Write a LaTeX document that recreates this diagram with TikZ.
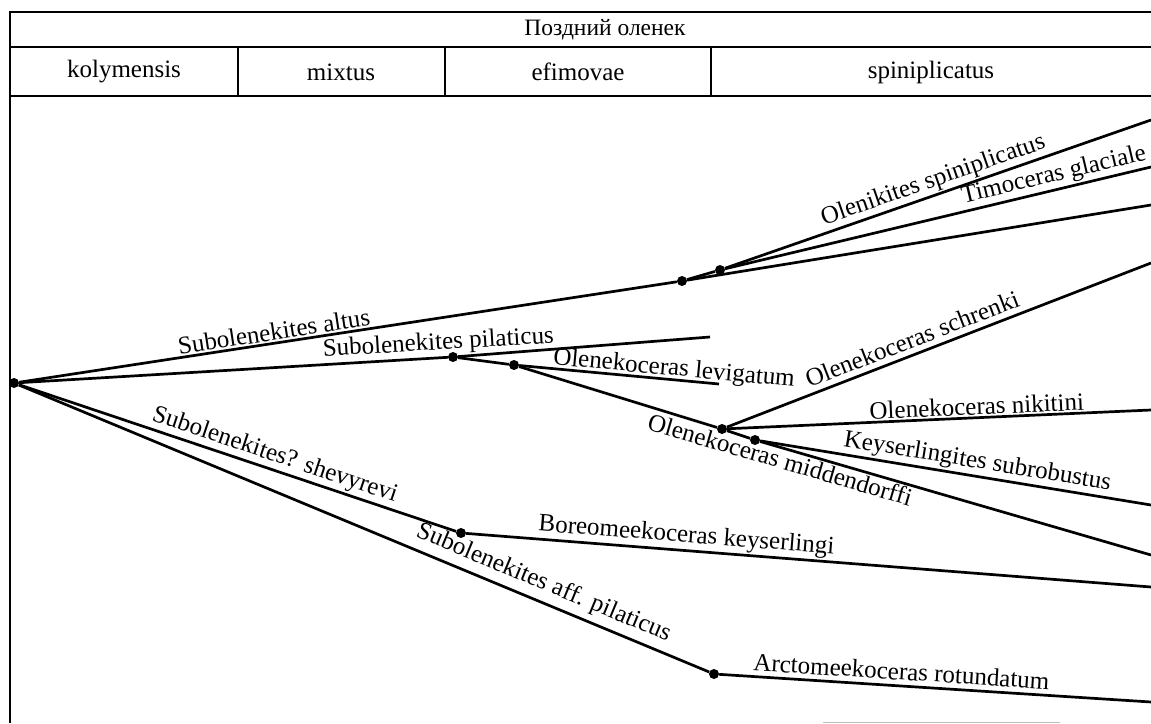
\documentclass[tikz,border=0pt]{standalone}
\usepackage{fontspec}
\setmainfont{Liberation Serif}
\usetikzlibrary{positioning, calc}

\tikzset{
    branch/.style={line width=2.7pt},
    fork/.style={circle, fill, inner sep=0pt, minimum size=10pt},
    taxon/.style={font=\fontsize{25}{28}\selectfont, sloped, above, inner sep=1.5pt},
    taxonlow/.style={font=\fontsize{25}{28}\selectfont, sloped, below, inner sep=1.5pt},
    rule/.style={line width=1.5pt},
}

\begin{document}
\begin{tikzpicture}[x=1pt, y=-1pt]
        % Define dimensions
        \def\W{1151} % picture width
        \def\H{723} % picture height
        \useasboundingbox (0,0) rectangle (\W,\H);

        % Draw the stage header
        \draw[rule] (10,\H) -- (10,12) -- (\W,12);
        \draw[rule] (10,47) -- (\W,47);
        \draw[rule] (10,96) -- (\W,96);
        \node[font=\fontsize{23.5}{28}\selectfont] (stage) at (605,30) {Поздний оленек};

        % Draw the zone cells
        \foreach \x in {238,445,711} {
            \draw[rule] (\x,47) -- (\x,96);
        }
        \foreach \x/\zone in {124/kolymensis, 341/mixtus, 578/efimovae, 931/spiniplicatus} {
            \node[font=\fontsize{25}{28}\selectfont] (\zone) at (\x,72) {\zone};
        }

        % Branch points
        \node[fork] (root) at (14,383) {};
        \node[fork] (altus) at (682,281) {};
        \node[fork] (olen) at (720,270) {};
        \node[fork] (pilat) at (453,357) {};
        \node[fork] (levig) at (514,365) {};
        \node[fork] (midd) at (722,429) {};
        \node[fork] (keys) at (755,440) {};
        \node[fork] (shev) at (461,533) {};
        \node[fork] (affpil) at (714,674) {};

        % Free ends of the lineages
        \coordinate (endspin) at (\W,120);
        \coordinate (endglac) at (\W,167);
        \coordinate (endaltus) at (\W,205);
        \coordinate (endpilat) at (710,337);
        \coordinate (endlevig) at (719,384);
        \coordinate (endschr) at (\W,263);
        \coordinate (endnik) at (\W,410);
        \coordinate (endsubr) at (\W,505);
        \coordinate (endmidd) at (\W,555);
        \coordinate (endbor) at (\W,587);
        \coordinate (endarct) at (\W,702);

        % Upper lineages
        \draw[branch] (root) -- node[taxon, pos=0.39] {Subolenekites altus} (altus);
        \draw[branch] (altus) -- (olen);
        \draw[branch] (altus) -- (endaltus);
        \draw[branch] (olen) -- node[taxon, pos=0.5] {Olenikites spiniplicatus} (endspin);
        \draw[branch] (olen) -- node[taxon, pos=0.78] {Timoceras glaciale} (endglac);

        % Middle lineages
        \draw[branch] (root) -- node[taxon, pos=0.98] {Subolenekites pilaticus} (pilat);
        \draw[branch] (pilat) -- (endpilat);
        \draw[branch] (pilat) -- (levig);
        \draw[branch] (levig) -- node[taxon, above=-4pt, pos=0.77] {Olenekoceras levigatum} (endlevig);
        \draw[branch] (levig) -- (midd);
        \draw[branch] (midd) -- node[taxon, above=4pt, pos=0.45] {Olenekoceras schrenki} (endschr);
        \draw[branch] (midd) -- node[taxon, pos=0.59] {Olenekoceras nikitini} (endnik);
        \draw[branch] (midd) -- (keys);
        \draw[branch] (keys) -- node[taxon, pos=0.55] {Keyserlingites subrobustus} (endsubr);
        \draw[branch] (keys) -- node[taxonlow, pos=0.06] {Olenekoceras middendorffi} (endmidd);

        % Lower lineages
        \draw[branch] (root) -- node[taxon, pos=0.575] {Subolenekites? shevyrevi} (shev);
        \draw[branch] (shev) -- node[taxon, pos=0.32] {Boreomeekoceras keyserlingi} (endbor);
        \draw[branch] (root) -- node[taxon, above=4pt, pos=0.75] {Subolenekites aff. pilaticus} (affpil);
        \draw[branch] (affpil) -- node[taxon, above=3pt, pos=0.42] {Arctomeekoceras rotundatum} (endarct);

        % Trace at the foot of the page
        \draw[gray!50, line width=1pt] (823,722) -- (1060,722);
    \end{tikzpicture}
\end{document}
